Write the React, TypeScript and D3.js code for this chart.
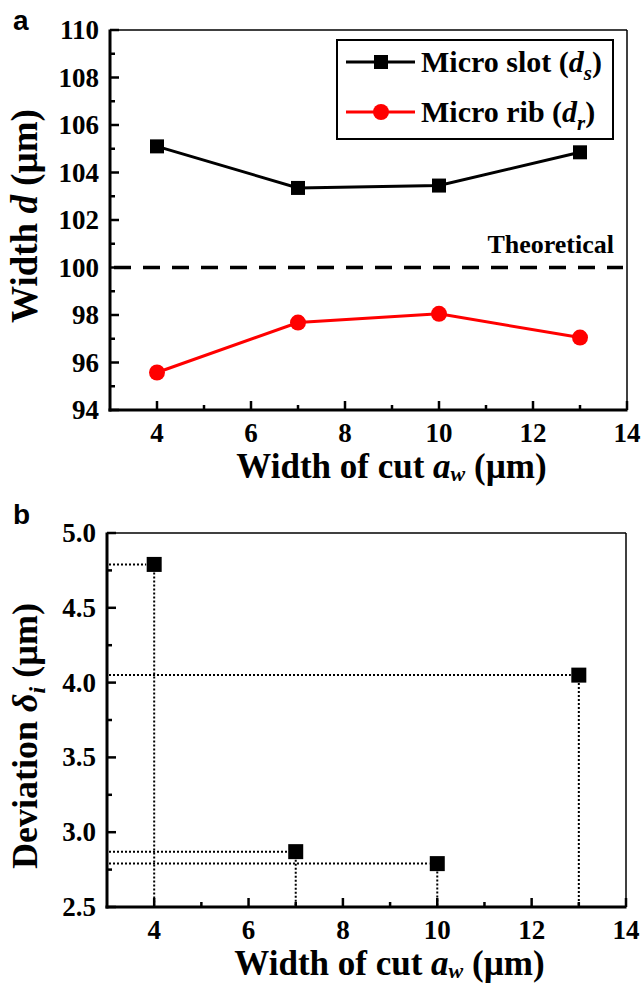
import { useRef, useEffect } from 'react';
import * as d3 from 'd3';

const cutWidths = [4, 7, 10, 13];
const slotWidths = [105.1, 103.35, 103.45, 104.85];
const ribWidths = [95.58, 97.68, 98.05, 97.05];
const theoretical = 100;
const deviations = [4.79, 2.87, 2.79, 4.05];

const xTicks = [4, 6, 8, 10, 12, 14];
const yTicksA = [94, 96, 98, 100, 102, 104, 106, 108, 110];
const yTicksB = [2.5, 3.0, 3.5, 4.0, 4.5, 5.0];

const serif = '"Liberation Serif", "Times New Roman", serif';
const sans = '"Liberation Sans", Arial, sans-serif';

type G = d3.Selection<SVGGElement, unknown, null, undefined>;

function drawFrame(
  g: G,
  x: d3.ScaleLinear<number, number>,
  y: d3.ScaleLinear<number, number>,
  yTicks: number[],
  yMinor: number[],
  xMinor: number[],
  yFmt: (v: number) => string,
) {
  const [x0, x1] = x.range();
  const [y0, y1] = y.range();

  // minor ticks (inward)
  g.append('g').selectAll('line')
    .data(xMinor)
    .join('line')
    .attr('x1', (d) => x(d)).attr('x2', (d) => x(d))
    .attr('y1', y0).attr('y2', y0 - 5)
    .attr('stroke', '#000').attr('stroke-width', 2.5);
  g.append('g').selectAll('line')
    .data(yMinor)
    .join('line')
    .attr('x1', x0).attr('x2', x0 + 5)
    .attr('y1', (d) => y(d)).attr('y2', (d) => y(d))
    .attr('stroke', '#000').attr('stroke-width', 2.5);

  // major ticks
  g.append('g').selectAll('line')
    .data(xTicks)
    .join('line')
    .attr('x1', (d) => x(d)).attr('x2', (d) => x(d))
    .attr('y1', y0).attr('y2', y0 - 9)
    .attr('stroke', '#000').attr('stroke-width', 2.5);
  g.append('g').selectAll('line')
    .data(yTicks)
    .join('line')
    .attr('x1', x0).attr('x2', x0 + 9)
    .attr('y1', (d) => y(d)).attr('y2', (d) => y(d))
    .attr('stroke', '#000').attr('stroke-width', 2.5);

  // frame
  g.append('line').attr('x1', x0).attr('x2', x1).attr('y1', y1).attr('y2', y1)
    .attr('stroke', '#000').attr('stroke-width', 1.5);
  g.append('line').attr('x1', x1).attr('x2', x1).attr('y1', y0).attr('y2', y1)
    .attr('stroke', '#000').attr('stroke-width', 1.5);
  g.append('line').attr('x1', x0).attr('x2', x0).attr('y1', y0 + 1.5).attr('y2', y1 - 0.5)
    .attr('stroke', '#000').attr('stroke-width', 3);
  g.append('line').attr('x1', x0 - 1.5).attr('x2', x1 + 0.5).attr('y1', y0).attr('y2', y0)
    .attr('stroke', '#000').attr('stroke-width', 3);

  // tick labels
  g.append('g').selectAll('text')
    .data(xTicks)
    .join('text')
    .attr('x', (d) => x(d))
    .attr('y', y0 + 32)
    .attr('text-anchor', 'middle')
    .attr('font-family', serif).attr('font-weight', 'bold').attr('font-size', 27)
    .text((d) => String(d));
  g.append('g').selectAll('text')
    .data(yTicks)
    .join('text')
    .attr('x', x0 - 11)
    .attr('y', (d) => y(d) + 9)
    .attr('text-anchor', 'end')
    .attr('font-family', serif).attr('font-weight', 'bold').attr('font-size', 27)
    .text((d) => yFmt(d));

  // x title
  const xt = g.append('text')
    .attr('x', (x0 + x1) / 2 + 23)
    .attr('y', y0 + 68)
    .attr('text-anchor', 'middle')
    .attr('font-family', serif).attr('font-weight', 'bold').attr('font-size', 35);
  xt.append('tspan').text('Width of cut ');
  xt.append('tspan').attr('font-style', 'italic').text('a');
  xt.append('tspan').attr('font-style', 'italic').attr('font-size', 22).attr('dy', 3).text('w');
  xt.append('tspan').attr('dy', -3).text(' (µm)');
}

export default function App() {
  const svgRef = useRef<SVGSVGElement>(null);

  useEffect(() => {
    if (!svgRef.current) return;
    const svg = d3.select(svgRef.current);
    svg.selectAll('*').remove();
    svg.append('rect').attr('width', 644).attr('height', 983).attr('fill', '#fff');
    const root = svg.append('g') as unknown as G;

    // ---------- panel a ----------
    const xa = d3.scaleLinear().domain([3, 14]).range([110, 627]);
    const ya = d3.scaleLinear().domain([94, 110]).range([410, 30]);
    const ga = root.append('g');

    drawFrame(ga, xa, ya, yTicksA, d3.range(95, 110, 2), d3.range(5, 14, 2), (v) => String(v));

    // theoretical line
    ga.append('line')
      .attr('x1', xa(3) + 4).attr('x2', xa(14) - 4)
      .attr('y1', ya(theoretical)).attr('y2', ya(theoretical))
      .attr('stroke', '#000').attr('stroke-width', 3.5)
      .attr('stroke-dasharray', '17,12');
    ga.append('text')
      .attr('x', 614).attr('y', ya(theoretical) - 15)
      .attr('text-anchor', 'end')
      .attr('font-family', serif).attr('font-weight', 'bold').attr('font-size', 26)
      .text('Theoretical');

    const line = d3.line<number>().x((_, i) => xa(cutWidths[i]));

    ga.append('path')
      .datum(slotWidths)
      .attr('fill', 'none').attr('stroke', '#000').attr('stroke-width', 3)
      .attr('d', line.y((d) => ya(d)));
    ga.append('g').selectAll('rect')
      .data(slotWidths)
      .join('rect')
      .attr('x', (_, i) => xa(cutWidths[i]) - 7)
      .attr('y', (d) => ya(d) - 7)
      .attr('width', 14).attr('height', 14)
      .attr('fill', '#000');

    ga.append('path')
      .datum(ribWidths)
      .attr('fill', 'none').attr('stroke', '#f00').attr('stroke-width', 3)
      .attr('d', line.y((d) => ya(d)));
    ga.append('g').selectAll('circle')
      .data(ribWidths)
      .join('circle')
      .attr('cx', (_, i) => xa(cutWidths[i]))
      .attr('cy', (d) => ya(d))
      .attr('r', 8)
      .attr('fill', '#f00');

    // legend
    const lg = ga.append('g');
    lg.append('rect')
      .attr('x', 337).attr('y', 40).attr('width', 276).attr('height', 99)
      .attr('fill', '#fff').attr('stroke', '#000').attr('stroke-width', 2);
    lg.append('line').attr('x1', 346).attr('x2', 415).attr('y1', 62).attr('y2', 62)
      .attr('stroke', '#000').attr('stroke-width', 3);
    lg.append('rect').attr('x', 374).attr('y', 55).attr('width', 14).attr('height', 14).attr('fill', '#000');
    lg.append('line').attr('x1', 346).attr('x2', 415).attr('y1', 112).attr('y2', 112)
      .attr('stroke', '#f00').attr('stroke-width', 3);
    lg.append('circle').attr('cx', 381).attr('cy', 112).attr('r', 8).attr('fill', '#f00');

    const t1 = lg.append('text').attr('x', 421).attr('y', 72)
      .attr('font-family', serif).attr('font-weight', 'bold').attr('font-size', 30);
    t1.append('tspan').text('Micro slot (');
    t1.append('tspan').attr('font-style', 'italic').text('d');
    t1.append('tspan').attr('font-style', 'italic').attr('font-size', 21).attr('dy', 8).text('s');
    t1.append('tspan').attr('dy', -8).text(')');

    const t2 = lg.append('text').attr('x', 421).attr('y', 122)
      .attr('font-family', serif).attr('font-weight', 'bold').attr('font-size', 30);
    t2.append('tspan').text('Micro rib (');
    t2.append('tspan').attr('font-style', 'italic').text('d');
    t2.append('tspan').attr('font-style', 'italic').attr('font-size', 21).attr('dy', 8).text('r');
    t2.append('tspan').attr('dy', -8).text(')');

    // y title a
    const yta = ga.append('text')
      .attr('transform', `translate(37,${(30 + 410) / 2 - 4}) rotate(-90)`)
      .attr('text-anchor', 'middle')
      .attr('font-family', serif).attr('font-weight', 'bold').attr('font-size', 37);
    yta.append('tspan').text('Width ');
    yta.append('tspan').attr('font-style', 'italic').text('d');
    yta.append('tspan').text(' (µm)');

    root.append('text').attr('x', 13).attr('y', 30)
      .attr('font-family', sans).attr('font-weight', 'bold').attr('font-size', 28).text('a');

    // ---------- panel b ----------
    const xb = d3.scaleLinear().domain([3, 14]).range([107, 626]);
    const yb = d3.scaleLinear().domain([2.5, 5.0]).range([907, 533]);
    const gb = root.append('g');

    drawFrame(gb, xb, yb, yTicksB, [2.75, 3.25, 3.75, 4.25, 4.75], d3.range(5, 14, 2), (v) => v.toFixed(1));

    // dotted guide lines
    gb.append('g').selectAll('line')
      .data(deviations)
      .join('line')
      .attr('x1', xb(3) + 2)
      .attr('x2', (_, i) => xb(cutWidths[i]) - 8)
      .attr('y1', (d) => yb(d)).attr('y2', (d) => yb(d))
      .attr('stroke', '#000').attr('stroke-width', 2)
      .attr('stroke-dasharray', '2,2');
    gb.append('g').selectAll('line')
      .data(deviations)
      .join('line')
      .attr('x1', (_, i) => xb(cutWidths[i]))
      .attr('x2', (_, i) => xb(cutWidths[i]))
      .attr('y1', (d) => yb(d) + 8)
      .attr('y2', yb(2.5) - 2)
      .attr('stroke', '#000').attr('stroke-width', 2)
      .attr('stroke-dasharray', '2,2');

    gb.append('g').selectAll('rect')
      .data(deviations)
      .join('rect')
      .attr('x', (_, i) => xb(cutWidths[i]) - 7.5)
      .attr('y', (d) => yb(d) - 7.5)
      .attr('width', 15).attr('height', 15)
      .attr('fill', '#000');

    const ytb = gb.append('text')
      .attr('transform', `translate(37,${(533 + 907) / 2 + 16}) rotate(-90)`)
      .attr('text-anchor', 'middle')
      .attr('font-family', serif).attr('font-weight', 'bold').attr('font-size', 36);
    ytb.append('tspan').text('Deviation ');
    ytb.append('tspan').attr('font-style', 'italic').text('δ');
    ytb.append('tspan').attr('font-style', 'italic').attr('font-size', 24).attr('dy', 8).text('i');
    ytb.append('tspan').attr('dy', -8).text(' (µm)');

    root.append('text').attr('x', 13).attr('y', 524)
      .attr('font-family', sans).attr('font-weight', 'bold').attr('font-size', 28).text('b');
  }, []);

  return (
    <svg
      ref={svgRef}
      width={644}
      height={983}
      style={{ position: 'absolute', left: 0, top: 0, display: 'block' }}
    />
  );
}
